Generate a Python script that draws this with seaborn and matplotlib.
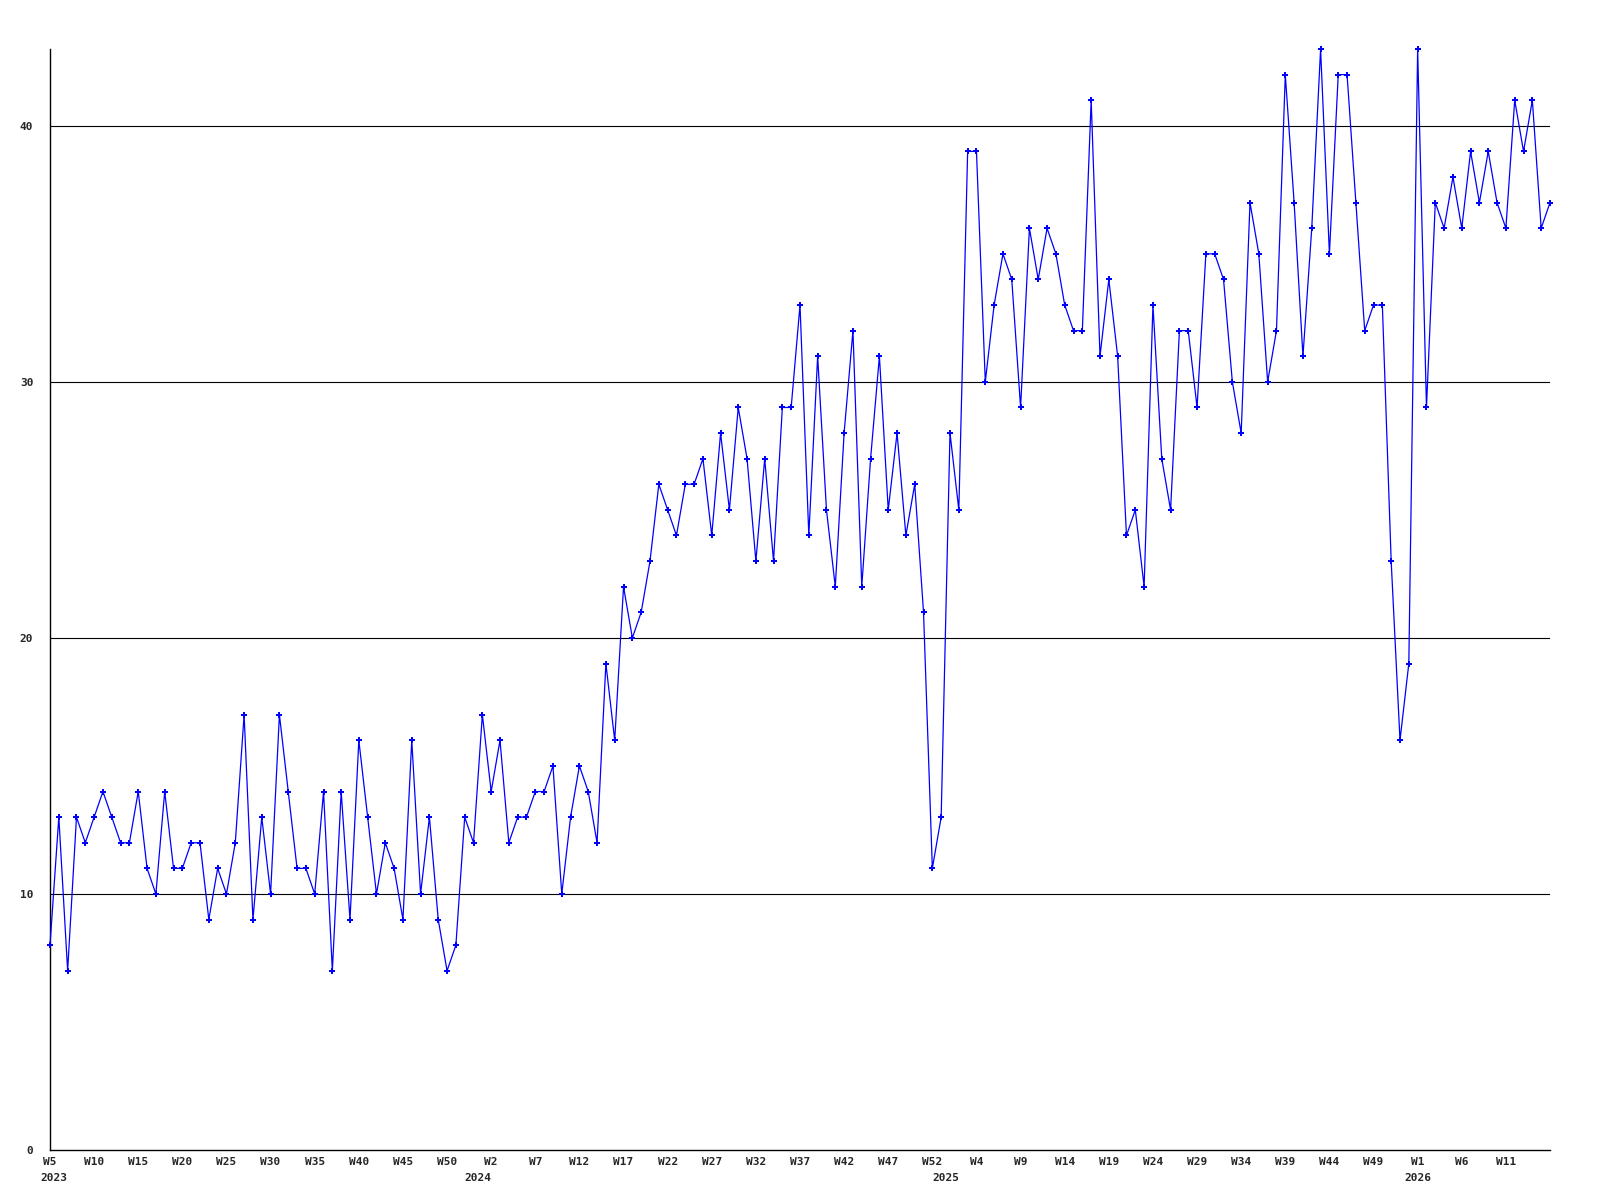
import numpy as np
import pandas as pd
import matplotlib
matplotlib.use('Agg')
import matplotlib.pyplot as plt
import seaborn as sns

# weekly counts, 2023 W5 onwards
values = [8, 13, 7, 13, 12, 13, 14, 13, 12, 12,
          14, 11, 10, 14, 11, 11, 12, 12, 9, 11,
          10, 12, 17, 9, 13, 10, 17, 14, 11, 11,
          10, 14, 7, 14, 9, 16, 13, 10, 12, 11,
          9, 16, 10, 13, 9, 7, 8, 13, 12, 17,
          14, 16, 12, 13, 13, 14, 14, 15, 10, 13,
          15, 14, 12, 19, 16, 22, 20, 21, 23, 26,
          25, 24, 26, 26, 27, 24, 28, 25, 29, 27,
          23, 27, 23, 29, 29, 33, 24, 31, 25, 22,
          28, 32, 22, 27, 31, 25, 28, 24, 26, 21,
          11, 13, 28, 25, 39, 39, 30, 33, 35, 34,
          29, 36, 34, 36, 35, 33, 32, 32, 41, 31,
          34, 31, 24, 25, 22, 33, 27, 25, 32, 32,
          29, 35, 35, 34, 30, 28, 37, 35, 30, 32,
          42, 37, 31, 36, 43, 35, 42, 42, 37, 32,
          33, 33, 23, 16, 19, 43, 29, 37, 36, 38,
          36, 39, 37, 39, 37, 36, 41, 39, 41, 36,
          37]

# tick labels, one every 5 points
week_labels = ['W5', 'W10', 'W15', 'W20', 'W25', 'W30', 'W35', 'W40', 'W45', 'W50',
               'W2', 'W7', 'W12', 'W17', 'W22', 'W27', 'W32', 'W37', 'W42', 'W47',
               'W52', 'W4', 'W9', 'W14', 'W19', 'W24', 'W29', 'W34', 'W39', 'W44',
               'W49', 'W1', 'W6', 'W11']
years = ['2023', '2024', '2025', '2026']
year_pos = [0.4, 48.5, 101.5, 155]
y_ticks = [0, 10, 20, 30, 40]

df = pd.DataFrame({'idx': np.arange(len(values)), 'value': values})

sns.set_style('white')
plt.rcParams['font.family'] = ['DejaVu Sans Mono', 'DejaVu Sans']

fig = plt.figure(figsize=(16, 12), dpi=100)
ax = fig.add_axes([50 / 1600, 1 - 1150 / 1200, 1500 / 1600, 1101 / 1200])

for v in y_ticks[1:]:
    ax.axhline(v, color='black', lw=0.8, zorder=1)

sns.lineplot(data=df, x='idx', y='value', ax=ax, color='#0000ff', lw=0.9,
             marker='P', markersize=5, markeredgewidth=0,
             markerfacecolor='#0000ff', zorder=3, clip_on=False)

ax.set_xlim(0, len(values) - 1)
ax.set_ylim(0, max(values))
ax.set_xticks(range(0, 5 * len(week_labels), 5))
ax.set_xticklabels(week_labels, fontsize=8, fontweight='bold')
ax.set_yticks(y_ticks)
ax.set_yticklabels([str(t) for t in y_ticks], fontsize=8, fontweight='bold')
ax.tick_params(axis='x', length=0, pad=5)
ax.tick_params(axis='y', length=0, pad=12)
ax.set_xlabel('')
ax.set_ylabel('')

for s in ['top', 'right']:
    ax.spines[s].set_visible(False)
for s in ['left', 'bottom']:
    ax.spines[s].set_color('black')
    ax.spines[s].set_linewidth(1.0)

for yr, pos in zip(years, year_pos):
    ax.annotate(yr, xy=(pos, 0), xycoords=('data', 'axes fraction'),
                xytext=(0, -20), textcoords='offset points',
                ha='center', va='center', fontsize=8, fontweight='bold')

fig.savefig('out.png', dpi=100)
